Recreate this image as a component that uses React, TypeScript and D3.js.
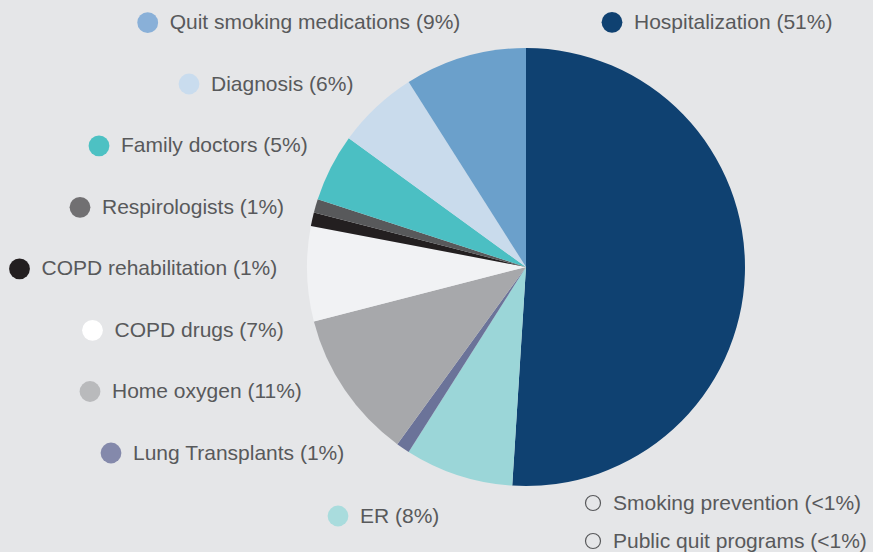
import React from "react";
import * as d3 from "d3";

const categories = [
  "Hospitalization",
  "ER",
  "Lung Transplants",
  "Home oxygen",
  "COPD drugs",
  "COPD rehabilitation",
  "Respirologists",
  "Family doctors",
  "Diagnosis",
  "Quit smoking medications",
  "Smoking prevention",
  "Public quit programs",
];
const values = [51, 8, 1, 11, 7, 1, 1, 5, 6, 9, 0, 0];
const percentLabels = ["51%", "8%", "1%", "11%", "7%", "1%", "1%", "5%", "6%", "9%", "<1%", "<1%"];

const sliceColors = [
  "#0f4171", "#9bd6d8", "#6b7399", "#a7a8ab", "#f1f2f4", "#231f20",
  "#58595b", "#4bbfc3", "#c9dbec", "#6ba0cb", "none", "none",
];
const markerColors = [
  "#0f4171", "#a9dcdd", "#8489ab", "#b9babc", "#ffffff", "#231f20",
  "#717072", "#4dc1c3", "#c9dcee", "#89b0d8", "none", "none",
];

// legend layout (marker centre) per category
const legendPos: [number, number][] = [
  [612, 22.3], [338, 516], [111, 453], [90, 391.5], [92.5, 330.3], [19.5, 268.8],
  [80, 207.3], [99, 145.8], [189, 84], [147.7, 22.7], [593, 503], [593, 541],
];

export default function App() {
  const W = 873, H = 552;
  const cx = 526, cy = 267, r = 219;
  const pie = d3.pie<number>().value((d) => d).sort(null).startAngle(0).endAngle(2 * Math.PI);
  const arcs = pie(values);
  const arc = d3.arc<d3.PieArcDatum<number>>().innerRadius(0).outerRadius(r);

  return (
    <svg width={W} height={H} style={{ position: "absolute", left: 0, top: 0, display: "block" }}>
      <rect width={W} height={H} fill="#e5e6e8" />
      <g transform={`translate(${cx},${cy})`}>
        {arcs.map((a, i) =>
          a.value > 0 ? <path key={i} d={arc(a) || ""} fill={sliceColors[i]} /> : null
        )}
      </g>
      {categories.map((c, i) => {
        const [x, y] = legendPos[i];
        const hollow = markerColors[i] === "none";
        return (
          <g key={c}>
            {hollow ? (
              <circle cx={x} cy={y} r={7.5} fill="none" stroke="#58595b" strokeWidth={1.2} />
            ) : (
              <circle cx={x} cy={y} r={10.4} fill={markerColors[i]} />
            )}
            <text
              x={x + (hollow ? 20 : 22)}
              y={y}
              dy="0.31em"
              fontFamily="'Liberation Sans', Arial, sans-serif"
              fontSize={21}
              fill="#58595b"
            >
              {`${c} (${percentLabels[i]})`}
            </text>
          </g>
        );
      })}
    </svg>
  );
}
